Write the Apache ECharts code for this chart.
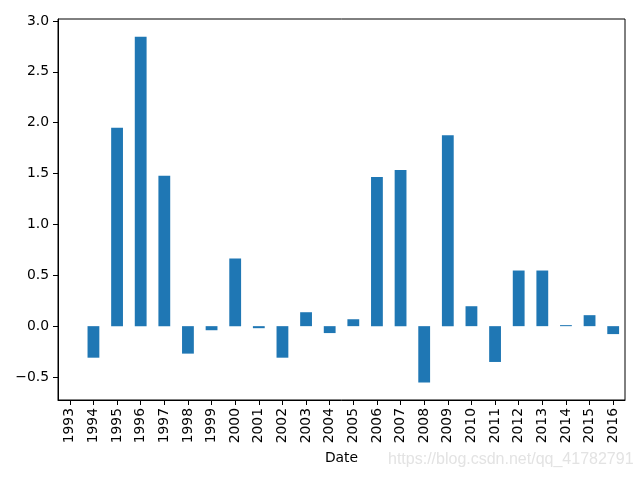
<!DOCTYPE html>
<html>
<head>
<meta charset="utf-8">
<script src="https://cdn.jsdelivr.net/npm/echarts@6/dist/echarts.min.js"></script>
<style>html,body{margin:0;padding:0;background:#fff}#c{width:640px;height:480px}</style>
</head>
<body>
<div id="c"></div>
<script>
var categories = ['1993','1994','1995','1996','1997','1998','1999','2000','2001','2002','2003','2004','2005','2006','2007','2008','2009','2010','2011','2012','2013','2014','2015','2016'];
var values = [0, -0.31, 1.95, 2.845, 1.48, -0.27, -0.04, 0.665, -0.02, -0.31, 0.137, -0.068, 0.068, 1.466, 1.535, -0.554, 1.877, 0.196, -0.352, 0.547, 0.547, 0.01, 0.108, -0.078];
var yTicks = [-0.5, 0, 0.5, 1.0, 1.5, 2.0, 2.5, 3.0];

var chart = echarts.init(document.getElementById('c'), null, {renderer: 'canvas'});
var font = 'DejaVu Sans';
chart.setOption({
  animation: false,
  backgroundColor: '#fff',
  grid: {left: 58, right: 15, top: 19, bottom: 80, show: true, borderColor: '#000', borderWidth: 1, containLabel: false},
  xAxis: {
    type: 'category',
    data: categories,
    boundaryGap: true,
    name: 'Date',
    nameLocation: 'middle',
    nameGap: 50,
    nameTextStyle: {fontFamily: font, fontSize: 13.9, color: '#000'},
    axisLine: {show: true, onZero: false, lineStyle: {color: '#000', width: 1}},
    axisTick: {show: true, alignWithLabel: true, length: 5, lineStyle: {color: '#000'}},
    axisLabel: {rotate: 90, margin: 8, fontFamily: font, fontSize: 13.9, color: '#000', interval: 0},
    splitLine: {show: false}
  },
  yAxis: {
    type: 'value',
    min: -0.726,
    max: 3.02,
    axisLine: {show: true, onZero: false, lineStyle: {color: '#000', width: 1}},
    axisTick: {show: true, length: 5, lineStyle: {color: '#000'}, customValues: yTicks},
    axisLabel: {
      margin: 9, fontFamily: font, fontSize: 13.9, color: '#000',
      customValues: yTicks,
      formatter: function (v) { return v.toFixed(1).replace('-', '\u2212'); }
    },
    splitLine: {show: false}
  },
  series: [{
    type: 'bar',
    data: values,
    barWidth: '50%',
    itemStyle: {color: '#1f77b4'}
  }],
  graphic: [{
    type: 'text',
    left: 388,
    top: 452,
    style: {text: 'https://blog.csdn.net/qq_41782791', font: '16px "Liberation Sans"', fill: '#e3e3e3'}
  }]
});
</script>
</body>
</html>
